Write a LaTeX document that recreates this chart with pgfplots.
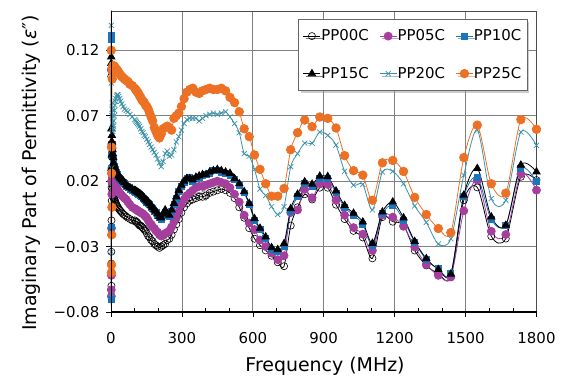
\documentclass[border=0pt]{standalone}
\usepackage{fontspec}
\setmainfont{DejaVu Sans}
\usepackage{pgfplots}
\pgfplotsset{compat=1.18}
\usepackage{pgfplotstable}
\usetikzlibrary{shadows}

\definecolor{c05}{RGB}{166,62,158}
\definecolor{c10}{RGB}{27,117,188}
\definecolor{c20}{RGB}{58,146,168}
\definecolor{c25}{RGB}{237,113,37}

\pgfplotstableread{
f y00 y05 y10 y15 y20 y25
1.00 0.100 0.105 0.131 0.115 0.139 0.120
1.21 -0.043 -0.063 0.128 0.110 -0.066 0.200
1.45 -0.034 -0.068 -0.070 -0.020 -0.034 -0.050
1.75 -0.060 -0.052 -0.020 0.060 0.095 0.046
2.11 -0.010 -0.016 -0.015 0.030 0.030 -0.044
2.55 0.015 0.020 0.040 0.050 0.060 0.026
3.07 0.005 0.010 0.030 0.040 0.045 -0.021
3.71 0.020 0.030 0.048 0.055 0.070 0.000
4.47 0.018 0.028 0.048 0.050 0.075 0.106
5.39 0.014 0.025 0.045 0.047 0.080 0.098
6.50 0.012 0.023 0.042 0.044 0.065 0.104
7.84 0.010 0.022 0.039 0.041 0.058 0.108
9.45 0.009 0.021 0.037 0.038 0.060 0.107
10.59 0.008 0.020 0.033 0.034 0.062 0.107
11.85 0.007 0.019 0.032 0.033 0.066 0.108
13.26 0.007 0.019 0.031 0.032 0.070 0.108
14.84 0.006 0.018 0.030 0.031 0.074 0.107
16.61 0.005 0.017 0.029 0.030 0.078 0.107
18.59 0.004 0.016 0.028 0.029 0.081 0.106
20.80 0.003 0.016 0.027 0.028 0.083 0.106
23.28 0.002 0.015 0.026 0.027 0.085 0.105
26.05 0.001 0.014 0.025 0.026 0.086 0.105
29.16 0.000 0.013 0.024 0.025 0.086 0.104
32.63 -0.001 0.012 0.023 0.024 0.085 0.103
36.52 -0.002 0.011 0.022 0.023 0.083 0.102
40.87 -0.003 0.010 0.021 0.022 0.081 0.101
45.74 -0.004 0.009 0.020 0.021 0.079 0.100
51.19 -0.005 0.008 0.019 0.020 0.077 0.099
57.28 -0.006 0.007 0.018 0.019 0.075 0.098
64.11 -0.007 0.006 0.016 0.017 0.074 0.097
71.74 -0.008 0.004 0.015 0.016 0.073 0.096
80.29 -0.009 0.002 0.014 0.015 0.071 0.094
89.85 -0.010 0.000 0.013 0.014 0.069 0.093
100.5 -0.010 -0.001 0.012 0.013 0.067 0.091
104.3 -0.011 -0.0015 0.0115 0.0125 0.066 0.090
108.3 -0.011 -0.002 0.011 0.012 0.065 0.089
112.4 -0.012 -0.0025 0.0105 0.0115 0.064 0.088
116.7 -0.013 -0.003 0.010 0.011 0.063 0.087
121.2 -0.014 -0.0035 0.0095 0.0105 0.062 0.085
125.8 -0.014 -0.004 0.009 0.010 0.060 0.084
130.6 -0.015 -0.0045 0.008 0.009 0.058 0.082
135.6 -0.016 -0.005 0.007 0.008 0.057 0.081
140.8 -0.017 -0.006 0.006 0.007 0.055 0.080
146.1 -0.018 -0.007 0.005 0.006 0.054 0.078
151.7 -0.020 -0.008 0.004 0.005 0.052 0.077
157.5 -0.022 -0.010 0.003 0.004 0.050 0.075
163.5 -0.023 -0.012 0.002 0.003 0.048 0.072
169.8 -0.025 -0.013 0.000 0.001 0.046 0.069
176.3 -0.026 -0.015 -0.001 0.000 0.044 0.066
183.0 -0.028 -0.016 -0.003 -0.002 0.042 0.061
190.0 -0.029 -0.018 -0.004 -0.003 0.040 0.058
197.2 -0.030 -0.019 -0.006 -0.005 0.037 0.055
204.8 -0.031 -0.021 -0.008 -0.007 0.034 0.053
212.6 -0.030 -0.022 -0.009 -0.008 0.031 0.056
220.7 -0.029 -0.021 -0.006 -0.005 0.035 0.060
229.1 -0.028 -0.020 -0.004 -0.002 0.041 0.061
237.9 -0.025 -0.019 -0.006 -0.005 0.043 0.062
247.0 -0.024 -0.018 -0.007 -0.006 0.039 0.061
256.4 -0.021 -0.015 -0.003 -0.002 0.040 0.059
266.2 -0.017 -0.011 0.002 0.003 0.044 0.068
276.4 -0.013 -0.008 0.007 0.008 0.050 0.070
286.9 -0.009 -0.003 0.012 0.013 0.054 0.072
297.9 -0.004 0.002 0.016 0.017 0.059 0.077
309.2 0.000 0.006 0.019 0.020 0.064 0.083
321.1 0.003 0.009 0.022 0.022 0.067 0.088
333.3 0.005 0.011 0.023 0.022 0.068 0.090
346.0 0.006 0.013 0.020 0.021 0.068 0.091
359.3 0.007 0.015 0.022 0.023 0.068 0.088
373.0 0.008 0.016 0.023 0.024 0.066 0.087
387.2 0.008 0.016 0.024 0.025 0.068 0.089
402.0 0.009 0.017 0.025 0.025 0.070 0.090
417.4 0.011 0.018 0.026 0.027 0.071 0.091
433.3 0.012 0.019 0.028 0.028 0.072 0.090
449.8 0.013 0.020 0.028 0.029 0.071 0.090
467.0 0.014 0.019 0.027 0.028 0.072 0.091
484.9 0.013 0.018 0.026 0.027 0.073 0.089
503.4 0.011 0.015 0.024 0.026 0.069 0.084
522.6 0.007 0.010 0.021 0.022 0.064 0.080
542.6 0.000 0.004 0.017 0.018 0.057 0.073
563.3 -0.008 -0.006 0.011 0.012 0.041 0.060
584.8 -0.016 -0.012 0.002 0.003 0.039 0.054
607.1 -0.024 -0.017 -0.010 -0.0086 0.029 0.040
630.3 -0.029 -0.025 -0.017 -0.016 0.014 0.029
654.4 -0.033 -0.030 -0.024 -0.0226 0.009 0.018
679.4 -0.037 -0.035 -0.032 -0.0308 0.0005 0.0085
705.3 -0.042 -0.040 -0.034 -0.0323 -0.0055 0.0085
732.2 -0.045 -0.037 -0.030 -0.0277 0.0005 0.0144
760.2 -0.014 -0.004 -0.003 -0.001 0.031 0.044
789.2 0.000 -0.002 0.008 0.010 0.041 0.057
819.4 0.010 0.0136 0.018 0.0195 0.049 0.0667
850.7 0.006 0.0073 0.016 0.0177 0.049 0.0616
883.2 0.015 0.018 0.022 0.0238 0.0575 0.069
916.9 0.015 0.0175 0.022 0.0235 0.055 0.068
951.9 0.002 0.0054 0.011 0.0125 0.0475 0.0606
988.3 -0.009 -0.006 0.000 0.0015 0.0275 0.0395
1026.0 -0.018 -0.0155 -0.006 -0.0045 0.017 0.028
1065.2 -0.023 -0.0205 -0.013 -0.0112 0.0175 0.0246
1105.9 -0.039 -0.033 -0.029 -0.0275 -0.002 0.0054
1148.1 -0.0075 -0.006 -0.005 -0.0035 0.027 0.034
1192.0 -0.011 -0.0075 0.0016 0.0041 0.0275 0.0358
1237.5 -0.0137 -0.0145 -0.0099 -0.008 0.018 0.0274
1284.7 -0.033 -0.0303 -0.0265 -0.026 0.001 0.0076
1333.8 -0.0444 -0.0436 -0.040 -0.0392 -0.0115 -0.0055
1384.7 -0.0507 -0.052 -0.0469 -0.0475 -0.028 -0.0162
1437.6 -0.0533 -0.0533 -0.0507 -0.051 -0.024 -0.0193
1492.5 0.0054 -0.0027 0.008 0.0093 0.0246 0.038
1549.5 0.0152 0.0208 0.0228 0.0297 0.059 0.0628
1608.7 -0.0221 -0.0183 -0.0093 -0.0073 0.0067 0.018
1670.1 -0.0239 -0.0208 -0.0137 -0.0137 0.0054 0.0108
1733.9 0.0233 0.0254 0.0297 0.0323 0.0575 0.067
1800.0 0.0208 0.0131 0.0195 0.0271 0.0473 0.0596
}\data

\begin{document}
\begin{tikzpicture}
\begin{axis}[
  scale only axis, width=425.5bp, height=301bp,
  xmin=0, xmax=1800, ymin=-0.08, ymax=0.15,
  xtick={0,300,600,900,1200,1500,1800},
  xticklabels={0,300,600,900,1200,1500,1800},
  minor x tick num=2,
  ytick={-0.08,-0.03,0.02,0.07,0.12},
  yticklabels={−0.08,−0.03,0.02,0.07,0.12},
  grid=major,
  major grid style={black!50, line width=0.7pt},
  axis line style={black!70, line width=0.7pt},
  tick style={black, line width=0.6pt},
  xtick pos=bottom, ytick pos=left,
  tick align=outside, major tick length=5pt, minor tick length=4pt,
  minor tick style={yshift=4pt},
  ticklabel style={font=\fontsize{15}{18}\selectfont},
  xticklabel style={yshift=-12pt},
  yticklabel style={xshift=-3pt},
  xlabel={Frequency (MHz)},
  ylabel={Imaginary Part of Permittivity (\textit{ε}″)},
  every axis x label/.style={at={(axis description cs:0.503,-0.179)}, anchor=center, font=\fontsize{19}{22}\selectfont},
  every axis y label/.style={at={(axis description cs:-0.188,0.462)}, anchor=center, rotate=90, font=\fontsize{19}{22}\selectfont},
  legend columns=3,
  legend cell align=left,
  legend style={
    at={(rel axis cs:0.9777,0.973)}, anchor=north east,
    draw=black!60, line width=0.5pt, fill=white,
    drop shadow={shadow xshift=2.5pt, shadow yshift=-2.5pt, fill=black!40},
    font=\fontsize{15}{18}\selectfont,
    inner xsep=5pt, inner ysep=10pt,
    /tikz/row sep=24pt,
    /tikz/every even column/.append style={column sep=10pt},
    nodes={inner sep=0.5pt},
  },
  every axis plot/.append style={line width=0.8pt, smooth},
]
\addplot[black, mark=o, mark size=3.6pt, mark options={line width=0.6pt}] table[x=f, y=y00] {\data};
\addplot[c05, mark=*, mark size=4pt] table[x=f, y=y05] {\data};
\addplot[c10, mark=square*, mark size=3pt] table[x=f, y=y10] {\data};
\addplot[black, mark=triangle*, mark size=4.2pt] table[x=f, y=y15] {\data};
\addplot[c20, mark=x, mark size=3.6pt, mark options={line width=0.7pt}] table[x=f, y=y20] {\data};
\addplot[c25, mark=*, mark size=4.3pt] table[x=f, y=y25] {\data};
\legend{PP00C,PP05C,PP10C,PP15C,PP20C,PP25C}
\node[font=\fontsize{12}{14}\selectfont\itshape, text=black!70] at (axis cs:378,0.009) {(ε″)};
\coordinate (O) at (rel axis cs:0,0);
\coordinate (T) at (rel axis cs:0,1);
\coordinate (R) at (rel axis cs:1,0);
\end{axis}
\draw[black, line width=1.2pt] (O) -- (R);
\draw[black, line width=0.8pt] (O) -- (T);
\pgfresetboundingbox
\path[use as bounding box] (O) ++(-111bp,-67bp) rectangle ++(564bp,379bp);
\end{tikzpicture}
\end{document}
